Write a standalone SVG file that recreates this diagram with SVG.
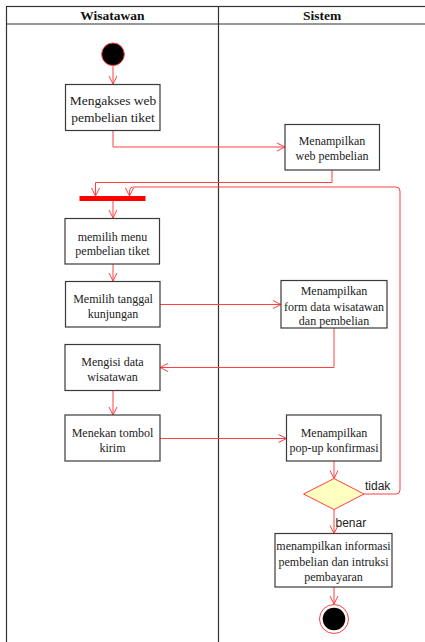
<svg xmlns="http://www.w3.org/2000/svg" width="425" height="642" viewBox="0 0 425 642">
<style>
.frame{fill:none;stroke:#333;stroke-width:1.2}
.box{fill:#fff;stroke:#3a3a3a;stroke-width:1.2}
.t{font-family:"Liberation Serif","Times New Roman",serif;font-size:12px;fill:#222;text-anchor:middle}
.t1{font-size:13.5px}
.h{font-family:"Liberation Serif","Times New Roman",serif;font-size:13.5px;font-weight:bold;fill:#111;text-anchor:middle}
.lbl{font-family:"Liberation Sans",Arial,sans-serif;font-size:12px;fill:#222}
.c{fill:none;stroke:#ff4040;stroke-width:1}
</style>
<defs>
<marker id="arr" markerUnits="userSpaceOnUse" markerWidth="12" markerHeight="12" viewBox="0 0 12 12" refX="10" refY="6" orient="auto">
<path d="M2,2 L10,6 L2,10" fill="none" stroke="#ff4040" stroke-width="1"/>
</marker>
</defs>
<rect width="425" height="642" fill="#fff"/>
<g id="lanes">
<rect class="frame" x="6.5" y="6.5" width="422" height="644"/>
<line class="frame" x1="6.5" y1="24" x2="428" y2="24"/>
<line class="frame" x1="218.5" y1="6.5" x2="218.5" y2="650"/>
<text class="h" x="112.5" y="19.5">Wisatawan</text>
<text class="h" x="322" y="19.5">Sistem</text>
</g>
<g id="connectors">
<path class="c" d="M113,66 V84" marker-end="url(#arr)"/>
<path class="c" d="M113,130.5 V147 H285" marker-end="url(#arr)"/>
<path class="c" d="M332,170 V182.5 H95.5 V196" marker-end="url(#arr)"/>
<path class="c" d="M364,494 H396 Q400,494 400,490 V191 Q400,187 396,187 H133.5 Q129.5,187 129.5,191 V196" marker-end="url(#arr)"/>
<path class="c" d="M113,201 V218" marker-end="url(#arr)"/>
<path class="c" d="M113,264 V281" marker-end="url(#arr)"/>
<path class="c" d="M160,304.5 H281" marker-end="url(#arr)"/>
<path class="c" d="M334,328 V367.5 H160" marker-end="url(#arr)"/>
<path class="c" d="M113,390.5 V415" marker-end="url(#arr)"/>
<path class="c" d="M160,438.5 H286.5" marker-end="url(#arr)"/>
<path class="c" d="M334,461 V478.5" marker-end="url(#arr)"/>
<path class="c" d="M334,509.5 V533.5" marker-end="url(#arr)"/>
<path class="c" d="M334,587 V604" marker-end="url(#arr)"/>
<text class="lbl" x="365" y="490">tidak</text>
<text class="lbl" x="335.5" y="527">benar</text>
</g>
<g id="start">
<circle cx="113" cy="54.3" r="11.3" fill="#000" stroke="#ff4040" stroke-width="1"/>
</g>
<g id="n1">
<rect class="box" x="65.5" y="84.5" width="94.5" height="46"/>
<text class="t t1" x="113" y="105">Mengakses web</text>
<text class="t t1" x="113" y="122">pembelian tiket</text>
</g>
<g id="n2">
<rect class="box" x="285" y="124.5" width="94.5" height="45.5"/>
<text class="t" x="332" y="145">Menampilkan</text>
<text class="t" x="332" y="160">web pembelian</text>
</g>
<g id="fork">
<rect x="79.5" y="196" width="66" height="5" fill="#ff0000"/>
</g>
<g id="n3">
<rect class="box" x="65" y="218.5" width="94.5" height="45.5"/>
<text class="t" x="112.5" y="240.5">memilih menu</text>
<text class="t" x="112.5" y="255.3">pembelian tiket</text>
</g>
<g id="n4">
<rect class="box" x="65.5" y="281.5" width="94.5" height="45.5"/>
<text class="t" x="113" y="303.2">Memilih tanggal</text>
<text class="t" x="113" y="318.2">kunjungan</text>
</g>
<g id="n5">
<rect class="box" x="281" y="280.5" width="106" height="47.5"/>
<text class="t" x="334" y="294.5">Menampilkan</text>
<text class="t" x="334" y="310.5">form data wisatawan</text>
<text class="t" x="334" y="325">dan pembelian</text>
</g>
<g id="n6">
<rect class="box" x="65" y="344.5" width="95" height="46"/>
<text class="t" x="112.5" y="366.2">Mengisi data</text>
<text class="t" x="112.5" y="381">wisatawan</text>
</g>
<g id="n7">
<rect class="box" x="65" y="415" width="95" height="46"/>
<text class="t" x="112.5" y="437">Menekan tombol</text>
<text class="t" x="112.5" y="451.5">kirim</text>
</g>
<g id="n8">
<rect class="box" x="286.5" y="415" width="94.5" height="46"/>
<text class="t" x="334" y="437">Menampilkan</text>
<text class="t" x="334" y="451.5">pop-up konfirmasi</text>
</g>
<g id="decision">
<polygon points="334,478.5 364,494 334,509.5 303.5,494" fill="#ffffc0" stroke="#ff4040" stroke-width="1"/>
</g>
<g id="n9">
<rect class="box" x="275" y="533.5" width="117" height="53.5"/>
<text class="t" x="333.5" y="550.2">menampilkan informasi</text>
<text class="t" x="333.5" y="566.2">pembelian dan intruksi</text>
<text class="t" x="333.5" y="580.8">pembayaran</text>
</g>
<g id="end">
<circle cx="334" cy="619" r="14.5" fill="#fff" stroke="#ff4040" stroke-width="1"/>
<circle cx="334" cy="619" r="11.3" fill="#000"/>
</g>
</svg>
